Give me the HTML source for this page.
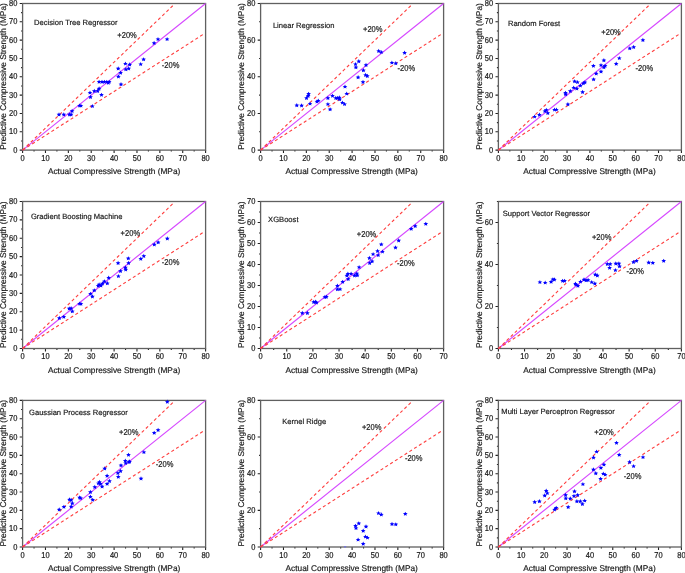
<!DOCTYPE html>
<html><head><meta charset="utf-8"><style>
html,body{margin:0;padding:0;background:#fff;}
svg{display:block;will-change:transform;}
text{font-family:"Liberation Sans",sans-serif;fill:#1a1a1a;text-rendering:geometricPrecision;stroke:#1a1a1a;stroke-width:0.18px;}
</style></head><body>
<svg width="685" height="573" viewBox="0 0 685 573">
<rect width="685" height="573" fill="#fff"/>
<g><path d="M22.6 150.1v2.9M34.04 150.1v1.5M45.48 150.1v2.9M56.91 150.1v1.5M68.35 150.1v2.9M79.79 150.1v1.5M91.22 150.1v2.9M102.66 150.1v1.5M114.1 150.1v2.9M125.54 150.1v1.5M136.97 150.1v2.9M148.41 150.1v1.5M159.85 150.1v2.9M171.29 150.1v1.5M182.72 150.1v2.9M194.16 150.1v1.5M205.6 150.1v2.9M22.6 150.1h-2.9M22.6 140.94h-1.5M22.6 131.78h-2.9M22.6 122.61h-1.5M22.6 113.45h-2.9M22.6 104.29h-1.5M22.6 95.12h-2.9M22.6 85.96h-1.5M22.6 76.8h-2.9M22.6 67.64h-1.5M22.6 58.47h-2.9M22.6 49.31h-1.5M22.6 40.15h-2.9M22.6 30.99h-1.5M22.6 21.82h-2.9M22.6 12.66h-1.5M22.6 3.5h-2.9" stroke="#222" stroke-width="1.1" fill="none"/><rect x="22.6" y="3.5" width="183" height="146.6" fill="none" stroke="#606060" stroke-width="1.3"/><line x1="22.6" y1="150.1" x2="205.6" y2="3.5" stroke="#d648ff" stroke-width="1.15"/><line x1="22.6" y1="150.1" x2="173.19" y2="5.33" stroke="#ff3d3d" stroke-width="1.1" stroke-dasharray="3.1 2.6"/><line x1="22.6" y1="150.1" x2="203.77" y2="33.99" stroke="#ff3d3d" stroke-width="1.1" stroke-dasharray="3.1 2.6"/><g fill="#0000ff"><polygon points="59,112.25 59.69,113.68 61.36,113.84 60.11,114.88 60.46,116.41 59,115.63 57.54,116.41 57.89,114.88 56.64,113.84 58.31,113.68"/><polygon points="63.8,112.25 64.49,113.68 66.16,113.84 64.91,114.88 65.26,116.41 63.8,115.63 62.34,116.41 62.69,114.88 61.44,113.84 63.11,113.68"/><polygon points="69.4,112.25 70.09,113.68 71.76,113.84 70.51,114.88 70.86,116.41 69.4,115.63 67.94,116.41 68.29,114.88 67.04,113.84 68.71,113.68"/><polygon points="71.1,112.25 71.79,113.68 73.46,113.84 72.21,114.88 72.56,116.41 71.1,115.63 69.64,116.41 69.99,114.88 68.74,113.84 70.41,113.68"/><polygon points="72.1,108.75 72.79,110.18 74.46,110.34 73.21,111.38 73.56,112.91 72.1,112.13 70.64,112.91 70.99,111.38 69.74,110.34 71.41,110.18"/><polygon points="79.5,103.45 80.19,104.88 81.86,105.04 80.61,106.08 80.96,107.61 79.5,106.83 78.04,107.61 78.39,106.08 77.14,105.04 78.81,104.88"/><polygon points="80.9,103.45 81.59,104.88 83.26,105.04 82.01,106.08 82.36,107.61 80.9,106.83 79.44,107.61 79.79,106.08 78.54,105.04 80.21,104.88"/><polygon points="90,90.45 90.69,91.88 92.36,92.04 91.11,93.08 91.46,94.61 90,93.83 88.54,94.61 88.89,93.08 87.64,92.04 89.31,91.88"/><polygon points="90.5,94.75 91.19,96.18 92.86,96.34 91.61,97.38 91.96,98.91 90.5,98.13 89.04,98.91 89.39,97.38 88.14,96.34 89.81,96.18"/><polygon points="92.4,103.95 93.09,105.38 94.76,105.54 93.51,106.58 93.86,108.11 92.4,107.33 90.94,108.11 91.29,106.58 90.04,105.54 91.71,105.38"/><polygon points="94.3,88.75 94.99,90.18 96.66,90.34 95.41,91.38 95.76,92.91 94.3,92.13 92.84,92.91 93.19,91.38 91.94,90.34 93.61,90.18"/><polygon points="97.7,88.75 98.39,90.18 100.06,90.34 98.81,91.38 99.16,92.91 97.7,92.13 96.24,92.91 96.59,91.38 95.34,90.34 97.01,90.18"/><polygon points="99.1,86.35 99.79,87.78 101.46,87.94 100.21,88.98 100.56,90.51 99.1,89.73 97.64,90.51 97.99,88.98 96.74,87.94 98.41,87.78"/><polygon points="101.5,92.65 102.19,94.08 103.86,94.24 102.61,95.28 102.96,96.81 101.5,96.03 100.04,96.81 100.39,95.28 99.14,94.24 100.81,94.08"/><polygon points="99.1,79.65 99.79,81.08 101.46,81.24 100.21,82.28 100.56,83.81 99.1,83.03 97.64,83.81 97.99,82.28 96.74,81.24 98.41,81.08"/><polygon points="102,79.65 102.69,81.08 104.36,81.24 103.11,82.28 103.46,83.81 102,83.03 100.54,83.81 100.89,82.28 99.64,81.24 101.31,81.08"/><polygon points="104.4,79.65 105.09,81.08 106.76,81.24 105.51,82.28 105.86,83.81 104.4,83.03 102.94,83.81 103.29,82.28 102.04,81.24 103.71,81.08"/><polygon points="106.8,79.65 107.49,81.08 109.16,81.24 107.91,82.28 108.26,83.81 106.8,83.03 105.34,83.81 105.69,82.28 104.44,81.24 106.11,81.08"/><polygon points="109.2,79.65 109.89,81.08 111.56,81.24 110.31,82.28 110.66,83.81 109.2,83.03 107.74,83.81 108.09,82.28 106.84,81.24 108.51,81.08"/><polygon points="108.3,80.65 108.99,82.08 110.66,82.24 109.41,83.28 109.76,84.81 108.3,84.03 106.84,84.81 107.19,83.28 105.94,82.24 107.61,82.08"/><polygon points="118.2,66.25 118.89,67.68 120.56,67.84 119.31,68.88 119.66,70.41 118.2,69.63 116.74,70.41 117.09,68.88 115.84,67.84 117.51,67.68"/><polygon points="118.4,74.35 119.09,75.78 120.76,75.94 119.51,76.98 119.86,78.51 118.4,77.73 116.94,78.51 117.29,76.98 116.04,75.94 117.71,75.78"/><polygon points="120.6,70.55 121.29,71.98 122.96,72.14 121.71,73.18 122.06,74.71 120.6,73.93 119.14,74.71 119.49,73.18 118.24,72.14 119.91,71.98"/><polygon points="121,82.05 121.69,83.48 123.36,83.64 122.11,84.68 122.46,86.21 121,85.43 119.54,86.21 119.89,84.68 118.64,83.64 120.31,83.48"/><polygon points="125.4,61.45 126.09,62.88 127.76,63.04 126.51,64.08 126.86,65.61 125.4,64.83 123.94,65.61 124.29,64.08 123.04,63.04 124.71,62.88"/><polygon points="125.8,67.15 126.49,68.58 128.16,68.74 126.91,69.78 127.26,71.31 125.8,70.53 124.34,71.31 124.69,69.78 123.44,68.74 125.11,68.58"/><polygon points="128.7,66.25 129.39,67.68 131.06,67.84 129.81,68.88 130.16,70.41 128.7,69.63 127.24,70.41 127.59,68.88 126.34,67.84 128.01,67.68"/><polygon points="129.7,62.35 130.39,63.78 132.06,63.94 130.81,64.98 131.16,66.51 129.7,65.73 128.24,66.51 128.59,64.98 127.34,63.94 129.01,63.78"/><polygon points="140.7,61.95 141.39,63.38 143.06,63.54 141.81,64.58 142.16,66.11 140.7,65.33 139.24,66.11 139.59,64.58 138.34,63.54 140.01,63.38"/><polygon points="143.6,57.15 144.29,58.58 145.96,58.74 144.71,59.78 145.06,61.31 143.6,60.53 142.14,61.31 142.49,59.78 141.24,58.74 142.91,58.58"/><polygon points="154.1,40.85 154.79,42.28 156.46,42.44 155.21,43.48 155.56,45.01 154.1,44.23 152.64,45.01 152.99,43.48 151.74,42.44 153.41,42.28"/><polygon points="158,36.95 158.69,38.38 160.36,38.54 159.11,39.58 159.46,41.11 158,40.33 156.54,41.11 156.89,39.58 155.64,38.54 157.31,38.38"/><polygon points="167.1,36.95 167.79,38.38 169.46,38.54 168.21,39.58 168.56,41.11 167.1,40.33 165.64,41.11 165.99,39.58 164.74,38.54 166.41,38.38"/></g><text transform="translate(22.6 160.85) scale(1 1.15)" font-size="7.5" text-anchor="middle">0</text><text transform="translate(45.48 160.85) scale(1 1.15)" font-size="7.5" text-anchor="middle">10</text><text transform="translate(68.35 160.85) scale(1 1.15)" font-size="7.5" text-anchor="middle">20</text><text transform="translate(91.22 160.85) scale(1 1.15)" font-size="7.5" text-anchor="middle">30</text><text transform="translate(114.1 160.85) scale(1 1.15)" font-size="7.5" text-anchor="middle">40</text><text transform="translate(136.97 160.85) scale(1 1.15)" font-size="7.5" text-anchor="middle">50</text><text transform="translate(159.85 160.85) scale(1 1.15)" font-size="7.5" text-anchor="middle">60</text><text transform="translate(182.72 160.85) scale(1 1.15)" font-size="7.5" text-anchor="middle">70</text><text transform="translate(205.6 160.85) scale(1 1.15)" font-size="7.5" text-anchor="middle">80</text><text transform="translate(17.3 152.6) scale(1 1.15)" font-size="7.5" text-anchor="end">0</text><text transform="translate(17.3 134.28) scale(1 1.15)" font-size="7.5" text-anchor="end">10</text><text transform="translate(17.3 115.95) scale(1 1.15)" font-size="7.5" text-anchor="end">20</text><text transform="translate(17.3 97.62) scale(1 1.15)" font-size="7.5" text-anchor="end">30</text><text transform="translate(17.3 79.3) scale(1 1.15)" font-size="7.5" text-anchor="end">40</text><text transform="translate(17.3 60.97) scale(1 1.15)" font-size="7.5" text-anchor="end">50</text><text transform="translate(17.3 42.65) scale(1 1.15)" font-size="7.5" text-anchor="end">60</text><text transform="translate(17.3 24.32) scale(1 1.15)" font-size="7.5" text-anchor="end">70</text><text transform="translate(17.3 6) scale(1 1.15)" font-size="7.5" text-anchor="end">80</text><text transform="translate(34.05 25.4)" font-size="7.6">Decision Tree Regressor</text><text transform="translate(117.3 37.5) scale(1 1.14)" font-size="7.55">+20%</text><text transform="translate(161.8 67.8) scale(1 1.14)" font-size="7.55">-20%</text><text transform="translate(114.1 174)" font-size="8.3" text-anchor="middle">Actual Compressive Strength (MPa)</text><text transform="translate(6.4 76.45) rotate(-90)" font-size="8.36" text-anchor="middle">Predictive Compressive Strength (MPa)</text></g>
<g><path d="M260.6 150.1v2.9M272.04 150.1v1.5M283.48 150.1v2.9M294.91 150.1v1.5M306.35 150.1v2.9M317.79 150.1v1.5M329.23 150.1v2.9M340.66 150.1v1.5M352.1 150.1v2.9M363.54 150.1v1.5M374.98 150.1v2.9M386.41 150.1v1.5M397.85 150.1v2.9M409.29 150.1v1.5M420.73 150.1v2.9M432.16 150.1v1.5M443.6 150.1v2.9M260.6 150.1h-2.9M260.6 131.78h-1.5M260.6 113.45h-2.9M260.6 95.12h-1.5M260.6 76.8h-2.9M260.6 58.47h-1.5M260.6 40.15h-2.9M260.6 21.82h-1.5M260.6 3.5h-2.9" stroke="#222" stroke-width="1.1" fill="none"/><rect x="260.6" y="3.5" width="183" height="146.6" fill="none" stroke="#606060" stroke-width="1.3"/><line x1="260.6" y1="150.1" x2="443.6" y2="3.5" stroke="#d648ff" stroke-width="1.15"/><line x1="260.6" y1="150.1" x2="411.19" y2="5.33" stroke="#ff3d3d" stroke-width="1.1" stroke-dasharray="3.1 2.6"/><line x1="260.6" y1="150.1" x2="441.77" y2="33.99" stroke="#ff3d3d" stroke-width="1.1" stroke-dasharray="3.1 2.6"/><g fill="#0000ff"><polygon points="296.8,103.05 297.49,104.48 299.16,104.64 297.91,105.68 298.26,107.21 296.8,106.43 295.34,107.21 295.69,105.68 294.44,104.64 296.11,104.48"/><polygon points="301.6,103.25 302.29,104.68 303.96,104.84 302.71,105.88 303.06,107.41 301.6,106.63 300.14,107.41 300.49,105.88 299.24,104.84 300.91,104.68"/><polygon points="306.5,95.85 307.19,97.28 308.86,97.44 307.61,98.48 307.96,100.01 306.5,99.23 305.04,100.01 305.39,98.48 304.14,97.44 305.81,97.28"/><polygon points="308.2,93.65 308.89,95.08 310.56,95.24 309.31,96.28 309.66,97.81 308.2,97.03 306.74,97.81 307.09,96.28 305.84,95.24 307.51,95.08"/><polygon points="308.6,91.65 309.29,93.08 310.96,93.24 309.71,94.28 310.06,95.81 308.6,95.03 307.14,95.81 307.49,94.28 306.24,93.24 307.91,93.08"/><polygon points="310,101.45 310.69,102.88 312.36,103.04 311.11,104.08 311.46,105.61 310,104.83 308.54,105.61 308.89,104.08 307.64,103.04 309.31,102.88"/><polygon points="317,99.35 317.69,100.78 319.36,100.94 318.11,101.98 318.46,103.51 317,102.73 315.54,103.51 315.89,101.98 314.64,100.94 316.31,100.78"/><polygon points="318.3,98.45 318.99,99.88 320.66,100.04 319.41,101.08 319.76,102.61 318.3,101.83 316.84,102.61 317.19,101.08 315.94,100.04 317.61,99.88"/><polygon points="327.9,95.85 328.59,97.28 330.26,97.44 329.01,98.48 329.36,100.01 327.9,99.23 326.44,100.01 326.79,98.48 325.54,97.44 327.21,97.28"/><polygon points="327.9,101.95 328.59,103.38 330.26,103.54 329.01,104.58 329.36,106.11 327.9,105.33 326.44,106.11 326.79,104.58 325.54,103.54 327.21,103.38"/><polygon points="330.1,107.15 330.79,108.58 332.46,108.74 331.21,109.78 331.56,111.31 330.1,110.53 328.64,111.31 328.99,109.78 327.74,108.74 329.41,108.58"/><polygon points="332.5,93.65 333.19,95.08 334.86,95.24 333.61,96.28 333.96,97.81 332.5,97.03 331.04,97.81 331.39,96.28 330.14,95.24 331.81,95.08"/><polygon points="335.8,95.85 336.49,97.28 338.16,97.44 336.91,98.48 337.26,100.01 335.8,99.23 334.34,100.01 334.69,98.48 333.44,97.44 335.11,97.28"/><polygon points="337.5,95.85 338.19,97.28 339.86,97.44 338.61,98.48 338.96,100.01 337.5,99.23 336.04,100.01 336.39,98.48 335.14,97.44 336.81,97.28"/><polygon points="339.3,95.35 339.99,96.78 341.66,96.94 340.41,97.98 340.76,99.51 339.3,98.73 337.84,99.51 338.19,97.98 336.94,96.94 338.61,96.78"/><polygon points="339.7,97.15 340.39,98.58 342.06,98.74 340.81,99.78 341.16,101.31 339.7,100.53 338.24,101.31 338.59,99.78 337.34,98.74 339.01,98.58"/><polygon points="342.4,100.45 343.09,101.88 344.76,102.04 343.51,103.08 343.86,104.61 342.4,103.83 340.94,104.61 341.29,103.08 340.04,102.04 341.71,101.88"/><polygon points="344.6,101.95 345.29,103.38 346.96,103.54 345.71,104.58 346.06,106.11 344.6,105.33 343.14,106.11 343.49,104.58 342.24,103.54 343.91,103.38"/><polygon points="345,84.45 345.69,85.88 347.36,86.04 346.11,87.08 346.46,88.61 345,87.83 343.54,88.61 343.89,87.08 342.64,86.04 344.31,85.88"/><polygon points="346.7,91.45 347.39,92.88 349.06,93.04 347.81,94.08 348.16,95.61 346.7,94.83 345.24,95.61 345.59,94.08 344.34,93.04 346.01,92.88"/><polygon points="355.5,61.95 356.19,63.38 357.86,63.54 356.61,64.58 356.96,66.11 355.5,65.33 354.04,66.11 354.39,64.58 353.14,63.54 354.81,63.38"/><polygon points="355.9,65.05 356.59,66.48 358.26,66.64 357.01,67.68 357.36,69.21 355.9,68.43 354.44,69.21 354.79,67.68 353.54,66.64 355.21,66.48"/><polygon points="358.8,59.05 359.49,60.48 361.16,60.64 359.91,61.68 360.26,63.21 358.8,62.43 357.34,63.21 357.69,61.68 356.44,60.64 358.11,60.48"/><polygon points="358.1,75.05 358.79,76.48 360.46,76.64 359.21,77.68 359.56,79.21 358.1,78.43 356.64,79.21 356.99,77.68 355.74,76.64 357.41,76.48"/><polygon points="363,79.75 363.69,81.18 365.36,81.34 364.11,82.38 364.46,83.91 363,83.13 361.54,83.91 361.89,82.38 360.64,81.34 362.31,81.18"/><polygon points="363.4,68.05 364.09,69.48 365.76,69.64 364.51,70.68 364.86,72.21 363.4,71.43 361.94,72.21 362.29,70.68 361.04,69.64 362.71,69.48"/><polygon points="366,62.85 366.69,64.28 368.36,64.44 367.11,65.48 367.46,67.01 366,66.23 364.54,67.01 364.89,65.48 363.64,64.44 365.31,64.28"/><polygon points="365.6,72.85 366.29,74.28 367.96,74.44 366.71,75.48 367.06,77.01 365.6,76.23 364.14,77.01 364.49,75.48 363.24,74.44 364.91,74.28"/><polygon points="367.3,73.75 367.99,75.18 369.66,75.34 368.41,76.38 368.76,77.91 367.3,77.13 365.84,77.91 366.19,76.38 364.94,75.34 366.61,75.18"/><polygon points="378.7,48.85 379.39,50.28 381.06,50.44 379.81,51.48 380.16,53.01 378.7,52.23 377.24,53.01 377.59,51.48 376.34,50.44 378.01,50.28"/><polygon points="381.3,49.95 381.99,51.38 383.66,51.54 382.41,52.58 382.76,54.11 381.3,53.33 379.84,54.11 380.19,52.58 378.94,51.54 380.61,51.38"/><polygon points="391.9,60.45 392.59,61.88 394.26,62.04 393.01,63.08 393.36,64.61 391.9,63.83 390.44,64.61 390.79,63.08 389.54,62.04 391.21,61.88"/><polygon points="395.8,61.05 396.49,62.48 398.16,62.64 396.91,63.68 397.26,65.21 395.8,64.43 394.34,65.21 394.69,63.68 393.44,62.64 395.11,62.48"/><polygon points="404.6,50.55 405.29,51.98 406.96,52.14 405.71,53.18 406.06,54.71 404.6,53.93 403.14,54.71 403.49,53.18 402.24,52.14 403.91,51.98"/></g><text transform="translate(260.6 160.85) scale(1 1.15)" font-size="7.5" text-anchor="middle">0</text><text transform="translate(283.48 160.85) scale(1 1.15)" font-size="7.5" text-anchor="middle">10</text><text transform="translate(306.35 160.85) scale(1 1.15)" font-size="7.5" text-anchor="middle">20</text><text transform="translate(329.23 160.85) scale(1 1.15)" font-size="7.5" text-anchor="middle">30</text><text transform="translate(352.1 160.85) scale(1 1.15)" font-size="7.5" text-anchor="middle">40</text><text transform="translate(374.98 160.85) scale(1 1.15)" font-size="7.5" text-anchor="middle">50</text><text transform="translate(397.85 160.85) scale(1 1.15)" font-size="7.5" text-anchor="middle">60</text><text transform="translate(420.73 160.85) scale(1 1.15)" font-size="7.5" text-anchor="middle">70</text><text transform="translate(443.6 160.85) scale(1 1.15)" font-size="7.5" text-anchor="middle">80</text><text transform="translate(255.3 152.6) scale(1 1.15)" font-size="7.5" text-anchor="end">0</text><text transform="translate(255.3 115.95) scale(1 1.15)" font-size="7.5" text-anchor="end">20</text><text transform="translate(255.3 79.3) scale(1 1.15)" font-size="7.5" text-anchor="end">40</text><text transform="translate(255.3 42.65) scale(1 1.15)" font-size="7.5" text-anchor="end">60</text><text transform="translate(255.3 6) scale(1 1.15)" font-size="7.5" text-anchor="end">80</text><text transform="translate(272.9 27.8)" font-size="7.6">Linear Regression</text><text transform="translate(363 31.8) scale(1 1.14)" font-size="7.55">+20%</text><text transform="translate(397.5 71.2) scale(1 1.14)" font-size="7.55">-20%</text><text transform="translate(351.7 174)" font-size="8.3" text-anchor="middle">Actual Compressive Strength (MPa)</text><text transform="translate(244.4 76.45) rotate(-90)" font-size="8.36" text-anchor="middle">Predictive Compressive Strength (MPa)</text></g>
<g><path d="M498.4 150.1v2.9M509.84 150.1v1.5M521.27 150.1v2.9M532.71 150.1v1.5M544.15 150.1v2.9M555.59 150.1v1.5M567.02 150.1v2.9M578.46 150.1v1.5M589.9 150.1v2.9M601.34 150.1v1.5M612.77 150.1v2.9M624.21 150.1v1.5M635.65 150.1v2.9M647.09 150.1v1.5M658.52 150.1v2.9M669.96 150.1v1.5M681.4 150.1v2.9M498.4 150.1h-2.9M498.4 140.94h-1.5M498.4 131.78h-2.9M498.4 122.61h-1.5M498.4 113.45h-2.9M498.4 104.29h-1.5M498.4 95.12h-2.9M498.4 85.96h-1.5M498.4 76.8h-2.9M498.4 67.64h-1.5M498.4 58.47h-2.9M498.4 49.31h-1.5M498.4 40.15h-2.9M498.4 30.99h-1.5M498.4 21.82h-2.9M498.4 12.66h-1.5M498.4 3.5h-2.9" stroke="#222" stroke-width="1.1" fill="none"/><rect x="498.4" y="3.5" width="183" height="146.6" fill="none" stroke="#606060" stroke-width="1.3"/><line x1="498.4" y1="150.1" x2="681.4" y2="3.5" stroke="#d648ff" stroke-width="1.15"/><line x1="498.4" y1="150.1" x2="648.99" y2="5.33" stroke="#ff3d3d" stroke-width="1.1" stroke-dasharray="3.1 2.6"/><line x1="498.4" y1="150.1" x2="679.57" y2="33.99" stroke="#ff3d3d" stroke-width="1.1" stroke-dasharray="3.1 2.6"/><g fill="#0000ff"><polygon points="534.6,114.45 535.29,115.88 536.96,116.04 535.71,117.08 536.06,118.61 534.6,117.83 533.14,118.61 533.49,117.08 532.24,116.04 533.91,115.88"/><polygon points="539.4,112.55 540.09,113.98 541.76,114.14 540.51,115.18 540.86,116.71 539.4,115.93 537.94,116.71 538.29,115.18 537.04,114.14 538.71,113.98"/><polygon points="544.9,108.95 545.59,110.38 547.26,110.54 546.01,111.58 546.36,113.11 544.9,112.33 543.44,113.11 543.79,111.58 542.54,110.54 544.21,110.38"/><polygon points="546.3,107.75 546.99,109.18 548.66,109.34 547.41,110.38 547.76,111.91 546.3,111.13 544.84,111.91 545.19,110.38 543.94,109.34 545.61,109.18"/><polygon points="547.8,110.85 548.49,112.28 550.16,112.44 548.91,113.48 549.26,115.01 547.8,114.23 546.34,115.01 546.69,113.48 545.44,112.44 547.11,112.28"/><polygon points="554.5,107.45 555.19,108.88 556.86,109.04 555.61,110.08 555.96,111.61 554.5,110.83 553.04,111.61 553.39,110.08 552.14,109.04 553.81,108.88"/><polygon points="556.4,107.45 557.09,108.88 558.76,109.04 557.51,110.08 557.86,111.61 556.4,110.83 554.94,111.61 555.29,110.08 554.04,109.04 555.71,108.88"/><polygon points="565.5,90.65 566.19,92.08 567.86,92.24 566.61,93.28 566.96,94.81 565.5,94.03 564.04,94.81 564.39,93.28 563.14,92.24 564.81,92.08"/><polygon points="565.7,92.15 566.39,93.58 568.06,93.74 566.81,94.78 567.16,96.31 565.7,95.53 564.24,96.31 564.59,94.78 563.34,93.74 565.01,93.58"/><polygon points="567.9,102.05 568.59,103.48 570.26,103.64 569.01,104.68 569.36,106.21 567.9,105.43 566.44,106.21 566.79,104.68 565.54,103.64 567.21,103.48"/><polygon points="570.3,88.75 570.99,90.18 572.66,90.34 571.41,91.38 571.76,92.91 570.3,92.13 568.84,92.91 569.19,91.38 567.94,90.34 569.61,90.18"/><polygon points="573.7,85.45 574.39,86.88 576.06,87.04 574.81,88.08 575.16,89.61 573.7,88.83 572.24,89.61 572.59,88.08 571.34,87.04 573.01,86.88"/><polygon points="574.6,79.15 575.29,80.58 576.96,80.74 575.71,81.78 576.06,83.31 574.6,82.53 573.14,83.31 573.49,81.78 572.24,80.74 573.91,80.58"/><polygon points="577.5,79.95 578.19,81.38 579.86,81.54 578.61,82.58 578.96,84.11 577.5,83.33 576.04,84.11 576.39,82.58 575.14,81.54 576.81,81.38"/><polygon points="576.8,86.35 577.49,87.78 579.16,87.94 577.91,88.98 578.26,90.51 576.8,89.73 575.34,90.51 575.69,88.98 574.44,87.94 576.11,87.78"/><polygon points="580.4,83.45 581.09,84.88 582.76,85.04 581.51,86.08 581.86,87.61 580.4,86.83 578.94,87.61 579.29,86.08 578.04,85.04 579.71,84.88"/><polygon points="582.6,89.75 583.29,91.18 584.96,91.34 583.71,92.38 584.06,93.91 582.6,93.13 581.14,93.91 581.49,92.38 580.24,91.34 581.91,91.18"/><polygon points="583.3,81.05 583.99,82.48 585.66,82.64 584.41,83.68 584.76,85.21 583.3,84.43 581.84,85.21 582.19,83.68 580.94,82.64 582.61,82.48"/><polygon points="584.9,80.15 585.59,81.58 587.26,81.74 586.01,82.78 586.36,84.31 584.9,83.53 583.44,84.31 583.79,82.78 582.54,81.74 584.21,81.58"/><polygon points="593.6,77.15 594.29,78.58 595.96,78.74 594.71,79.78 595.06,81.31 593.6,80.53 592.14,81.31 592.49,79.78 591.24,78.74 592.91,78.58"/><polygon points="593.4,63.65 594.09,65.08 595.76,65.24 594.51,66.28 594.86,67.81 593.4,67.03 591.94,67.81 592.29,66.28 591.04,65.24 592.71,65.08"/><polygon points="596.2,71.35 596.89,72.78 598.56,72.94 597.31,73.98 597.66,75.51 596.2,74.73 594.74,75.51 595.09,73.98 593.84,72.94 595.51,72.78"/><polygon points="601,69.25 601.69,70.68 603.36,70.84 602.11,71.88 602.46,73.41 601,72.63 599.54,73.41 599.89,71.88 598.64,70.84 600.31,70.68"/><polygon points="601,62.95 601.69,64.38 603.36,64.54 602.11,65.58 602.46,67.11 601,66.33 599.54,67.11 599.89,65.58 598.64,64.54 600.31,64.38"/><polygon points="603.9,58.05 604.59,59.48 606.26,59.64 605.01,60.68 605.36,62.21 603.9,61.43 602.44,62.21 602.79,60.68 601.54,59.64 603.21,59.48"/><polygon points="603.9,65.05 604.59,66.48 606.26,66.64 605.01,67.68 605.36,69.21 603.9,68.43 602.44,69.21 602.79,67.68 601.54,66.64 603.21,66.48"/><polygon points="605.1,63.65 605.79,65.08 607.46,65.24 606.21,66.28 606.56,67.81 605.1,67.03 603.64,67.81 603.99,66.28 602.74,65.24 604.41,65.08"/><polygon points="616.2,61.55 616.89,62.98 618.56,63.14 617.31,64.18 617.66,65.71 616.2,64.93 614.74,65.71 615.09,64.18 613.84,63.14 615.51,62.98"/><polygon points="619.3,55.95 619.99,57.38 621.66,57.54 620.41,58.58 620.76,60.11 619.3,59.33 617.84,60.11 618.19,58.58 616.94,57.54 618.61,57.38"/><polygon points="629.8,46.15 630.49,47.58 632.16,47.74 630.91,48.78 631.26,50.31 629.8,49.53 628.34,50.31 628.69,48.78 627.44,47.74 629.11,47.58"/><polygon points="633.7,44.85 634.39,46.28 636.06,46.44 634.81,47.48 635.16,49.01 633.7,48.23 632.24,49.01 632.59,47.48 631.34,46.44 633.01,46.28"/><polygon points="642.9,37.85 643.59,39.28 645.26,39.44 644.01,40.48 644.36,42.01 642.9,41.23 641.44,42.01 641.79,40.48 640.54,39.44 642.21,39.28"/></g><text transform="translate(498.4 160.85) scale(1 1.15)" font-size="7.5" text-anchor="middle">0</text><text transform="translate(521.27 160.85) scale(1 1.15)" font-size="7.5" text-anchor="middle">10</text><text transform="translate(544.15 160.85) scale(1 1.15)" font-size="7.5" text-anchor="middle">20</text><text transform="translate(567.02 160.85) scale(1 1.15)" font-size="7.5" text-anchor="middle">30</text><text transform="translate(589.9 160.85) scale(1 1.15)" font-size="7.5" text-anchor="middle">40</text><text transform="translate(612.77 160.85) scale(1 1.15)" font-size="7.5" text-anchor="middle">50</text><text transform="translate(635.65 160.85) scale(1 1.15)" font-size="7.5" text-anchor="middle">60</text><text transform="translate(658.52 160.85) scale(1 1.15)" font-size="7.5" text-anchor="middle">70</text><text transform="translate(681.4 160.85) scale(1 1.15)" font-size="7.5" text-anchor="middle">80</text><text transform="translate(493.1 152.6) scale(1 1.15)" font-size="7.5" text-anchor="end">0</text><text transform="translate(493.1 134.28) scale(1 1.15)" font-size="7.5" text-anchor="end">10</text><text transform="translate(493.1 115.95) scale(1 1.15)" font-size="7.5" text-anchor="end">20</text><text transform="translate(493.1 97.62) scale(1 1.15)" font-size="7.5" text-anchor="end">30</text><text transform="translate(493.1 79.3) scale(1 1.15)" font-size="7.5" text-anchor="end">40</text><text transform="translate(493.1 60.97) scale(1 1.15)" font-size="7.5" text-anchor="end">50</text><text transform="translate(493.1 42.65) scale(1 1.15)" font-size="7.5" text-anchor="end">60</text><text transform="translate(493.1 24.32) scale(1 1.15)" font-size="7.5" text-anchor="end">70</text><text transform="translate(493.1 6) scale(1 1.15)" font-size="7.5" text-anchor="end">80</text><text transform="translate(507.9 25.8)" font-size="7.6">Random Forest</text><text transform="translate(601.3 34.8) scale(1 1.14)" font-size="7.55">+20%</text><text transform="translate(635.6 70.6) scale(1 1.14)" font-size="7.55">-20%</text><text transform="translate(589.5 174)" font-size="8.3" text-anchor="middle">Actual Compressive Strength (MPa)</text><text transform="translate(481.6 76.45) rotate(-90)" font-size="8.36" text-anchor="middle">Predictive Compressive Strength (MPa)</text></g>
<g><path d="M22.6 348.5v2.9M34.04 348.5v1.5M45.48 348.5v2.9M56.91 348.5v1.5M68.35 348.5v2.9M79.79 348.5v1.5M91.22 348.5v2.9M102.66 348.5v1.5M114.1 348.5v2.9M125.54 348.5v1.5M136.97 348.5v2.9M148.41 348.5v1.5M159.85 348.5v2.9M171.29 348.5v1.5M182.72 348.5v2.9M194.16 348.5v1.5M205.6 348.5v2.9M22.6 348.5h-2.9M22.6 339.31h-1.5M22.6 330.12h-2.9M22.6 320.94h-1.5M22.6 311.75h-2.9M22.6 302.56h-1.5M22.6 293.38h-2.9M22.6 284.19h-1.5M22.6 275h-2.9M22.6 265.81h-1.5M22.6 256.62h-2.9M22.6 247.44h-1.5M22.6 238.25h-2.9M22.6 229.06h-1.5M22.6 219.88h-2.9M22.6 210.69h-1.5M22.6 201.5h-2.9" stroke="#222" stroke-width="1.1" fill="none"/><rect x="22.6" y="201.5" width="183" height="147" fill="none" stroke="#606060" stroke-width="1.3"/><line x1="22.6" y1="348.5" x2="205.6" y2="201.5" stroke="#d648ff" stroke-width="1.15"/><line x1="22.6" y1="348.5" x2="173.19" y2="203.34" stroke="#ff3d3d" stroke-width="1.1" stroke-dasharray="3.1 2.6"/><line x1="22.6" y1="348.5" x2="203.77" y2="232.08" stroke="#ff3d3d" stroke-width="1.1" stroke-dasharray="3.1 2.6"/><g fill="#0000ff"><polygon points="59.3,315.85 59.99,317.28 61.66,317.44 60.41,318.48 60.76,320.01 59.3,319.23 57.84,320.01 58.19,318.48 56.94,317.44 58.61,317.28"/><polygon points="63.8,314.65 64.49,316.08 66.16,316.24 64.91,317.28 65.26,318.81 63.8,318.03 62.34,318.81 62.69,317.28 61.44,316.24 63.11,316.08"/><polygon points="69.2,306.25 69.89,307.68 71.56,307.84 70.31,308.88 70.66,310.41 69.2,309.63 67.74,310.41 68.09,308.88 66.84,307.84 68.51,307.68"/><polygon points="71.1,306.05 71.79,307.48 73.46,307.64 72.21,308.68 72.56,310.21 71.1,309.43 69.64,310.21 69.99,308.68 68.74,307.64 70.41,307.48"/><polygon points="72.3,309.15 72.99,310.58 74.66,310.74 73.41,311.78 73.76,313.31 72.3,312.53 70.84,313.31 71.19,311.78 69.94,310.74 71.61,310.58"/><polygon points="79.5,301.45 80.19,302.88 81.86,303.04 80.61,304.08 80.96,305.61 79.5,304.83 78.04,305.61 78.39,304.08 77.14,303.04 78.81,302.88"/><polygon points="80.9,301.65 81.59,303.08 83.26,303.24 82.01,304.28 82.36,305.81 80.9,305.03 79.44,305.81 79.79,304.28 78.54,303.24 80.21,303.08"/><polygon points="90.5,291.65 91.19,293.08 92.86,293.24 91.61,294.28 91.96,295.81 90.5,295.03 89.04,295.81 89.39,294.28 88.14,293.24 89.81,293.08"/><polygon points="92.4,294.25 93.09,295.68 94.76,295.84 93.51,296.88 93.86,298.41 92.4,297.63 90.94,298.41 91.29,296.88 90.04,295.84 91.71,295.68"/><polygon points="94.3,288.15 94.99,289.58 96.66,289.74 95.41,290.78 95.76,292.31 94.3,291.53 92.84,292.31 93.19,290.78 91.94,289.74 93.61,289.58"/><polygon points="98.2,283.65 98.89,285.08 100.56,285.24 99.31,286.28 99.66,287.81 98.2,287.03 96.74,287.81 97.09,286.28 95.84,285.24 97.51,285.08"/><polygon points="99.1,282.25 99.79,283.68 101.46,283.84 100.21,284.88 100.56,286.41 99.1,285.63 97.64,286.41 97.99,284.88 96.74,283.84 98.41,283.68"/><polygon points="100.9,283.25 101.59,284.68 103.26,284.84 102.01,285.88 102.36,287.41 100.9,286.63 99.44,287.41 99.79,285.88 98.54,284.84 100.21,284.68"/><polygon points="102.5,281.25 103.19,282.68 104.86,282.84 103.61,283.88 103.96,285.41 102.5,284.63 101.04,285.41 101.39,283.88 100.14,282.84 101.81,282.68"/><polygon points="104.4,279.15 105.09,280.58 106.76,280.74 105.51,281.78 105.86,283.31 104.4,282.53 102.94,283.31 103.29,281.78 102.04,280.74 103.71,280.58"/><polygon points="107.3,281.05 107.99,282.48 109.66,282.64 108.41,283.68 108.76,285.21 107.3,284.43 105.84,285.21 106.19,283.68 104.94,282.64 106.61,282.48"/><polygon points="108.7,275.55 109.39,276.98 111.06,277.14 109.81,278.18 110.16,279.71 108.7,278.93 107.24,279.71 107.59,278.18 106.34,277.14 108.01,276.98"/><polygon points="118.4,273.95 119.09,275.38 120.76,275.54 119.51,276.58 119.86,278.11 118.4,277.33 116.94,278.11 117.29,276.58 116.04,275.54 117.71,275.38"/><polygon points="118.1,260.75 118.79,262.18 120.46,262.34 119.21,263.38 119.56,264.91 118.1,264.13 116.64,264.91 116.99,263.38 115.74,262.34 117.41,262.18"/><polygon points="120.5,268.75 121.19,270.18 122.86,270.34 121.61,271.38 121.96,272.91 120.5,272.13 119.04,272.91 119.39,271.38 118.14,270.34 119.81,270.18"/><polygon points="125.4,265.25 126.09,266.68 127.76,266.84 126.51,267.88 126.86,269.41 125.4,268.63 123.94,269.41 124.29,267.88 123.04,266.84 124.71,266.68"/><polygon points="125.7,267.35 126.39,268.78 128.06,268.94 126.81,269.98 127.16,271.51 125.7,270.73 124.24,271.51 124.59,269.98 123.34,268.94 125.01,268.78"/><polygon points="128.3,256.15 128.99,257.58 130.66,257.74 129.41,258.78 129.76,260.31 128.3,259.53 126.84,260.31 127.19,258.78 125.94,257.74 127.61,257.58"/><polygon points="128.6,260.75 129.29,262.18 130.96,262.34 129.71,263.38 130.06,264.91 128.6,264.13 127.14,264.91 127.49,263.38 126.24,262.34 127.91,262.18"/><polygon points="140.8,256.55 141.49,257.98 143.16,258.14 141.91,259.18 142.26,260.71 140.8,259.93 139.34,260.71 139.69,259.18 138.44,258.14 140.11,257.98"/><polygon points="143.8,253.75 144.49,255.18 146.16,255.34 144.91,256.38 145.26,257.91 143.8,257.13 142.34,257.91 142.69,256.38 141.44,255.34 143.11,255.18"/><polygon points="154.3,242.25 154.99,243.68 156.66,243.84 155.41,244.88 155.76,246.41 154.3,245.63 152.84,246.41 153.19,244.88 151.94,243.84 153.61,243.68"/><polygon points="158.2,240.15 158.89,241.58 160.56,241.74 159.31,242.78 159.66,244.31 158.2,243.53 156.74,244.31 157.09,242.78 155.84,241.74 157.51,241.58"/><polygon points="167.3,236.25 167.99,237.68 169.66,237.84 168.41,238.88 168.76,240.41 167.3,239.63 165.84,240.41 166.19,238.88 164.94,237.84 166.61,237.68"/></g><text transform="translate(22.6 359.25) scale(1 1.15)" font-size="7.5" text-anchor="middle">0</text><text transform="translate(45.48 359.25) scale(1 1.15)" font-size="7.5" text-anchor="middle">10</text><text transform="translate(68.35 359.25) scale(1 1.15)" font-size="7.5" text-anchor="middle">20</text><text transform="translate(91.22 359.25) scale(1 1.15)" font-size="7.5" text-anchor="middle">30</text><text transform="translate(114.1 359.25) scale(1 1.15)" font-size="7.5" text-anchor="middle">40</text><text transform="translate(136.97 359.25) scale(1 1.15)" font-size="7.5" text-anchor="middle">50</text><text transform="translate(159.85 359.25) scale(1 1.15)" font-size="7.5" text-anchor="middle">60</text><text transform="translate(182.72 359.25) scale(1 1.15)" font-size="7.5" text-anchor="middle">70</text><text transform="translate(205.6 359.25) scale(1 1.15)" font-size="7.5" text-anchor="middle">80</text><text transform="translate(17.3 351) scale(1 1.15)" font-size="7.5" text-anchor="end">0</text><text transform="translate(17.3 332.62) scale(1 1.15)" font-size="7.5" text-anchor="end">10</text><text transform="translate(17.3 314.25) scale(1 1.15)" font-size="7.5" text-anchor="end">20</text><text transform="translate(17.3 295.88) scale(1 1.15)" font-size="7.5" text-anchor="end">30</text><text transform="translate(17.3 277.5) scale(1 1.15)" font-size="7.5" text-anchor="end">40</text><text transform="translate(17.3 259.12) scale(1 1.15)" font-size="7.5" text-anchor="end">50</text><text transform="translate(17.3 240.75) scale(1 1.15)" font-size="7.5" text-anchor="end">60</text><text transform="translate(17.3 222.38) scale(1 1.15)" font-size="7.5" text-anchor="end">70</text><text transform="translate(17.3 204) scale(1 1.15)" font-size="7.5" text-anchor="end">80</text><text transform="translate(30.9 219)" font-size="7.6">Gradient Boosting Machine</text><text transform="translate(120.6 235.6) scale(1 1.14)" font-size="7.55">+20%</text><text transform="translate(161.8 264.6) scale(1 1.14)" font-size="7.55">-20%</text><text transform="translate(114.1 373.2)" font-size="8.3" text-anchor="middle">Actual Compressive Strength (MPa)</text><text transform="translate(6.4 274.75) rotate(-90)" font-size="8.36" text-anchor="middle">Predictive Compressive Strength (MPa)</text></g>
<g><path d="M260.6 348.5v2.9M273.67 348.5v1.5M286.74 348.5v2.9M299.81 348.5v1.5M312.89 348.5v2.9M325.96 348.5v1.5M339.03 348.5v2.9M352.1 348.5v1.5M365.17 348.5v2.9M378.24 348.5v1.5M391.31 348.5v2.9M404.39 348.5v1.5M417.46 348.5v2.9M430.53 348.5v1.5M443.6 348.5v2.9M260.6 348.5h-2.9M260.6 338h-1.5M260.6 327.5h-2.9M260.6 317h-1.5M260.6 306.5h-2.9M260.6 296h-1.5M260.6 285.5h-2.9M260.6 275h-1.5M260.6 264.5h-2.9M260.6 254h-1.5M260.6 243.5h-2.9M260.6 233h-1.5M260.6 222.5h-2.9M260.6 212h-1.5M260.6 201.5h-2.9" stroke="#222" stroke-width="1.1" fill="none"/><rect x="260.6" y="201.5" width="183" height="147" fill="none" stroke="#606060" stroke-width="1.3"/><line x1="260.6" y1="348.5" x2="443.6" y2="201.5" stroke="#d648ff" stroke-width="1.15"/><line x1="260.6" y1="348.5" x2="410.92" y2="203.6" stroke="#ff3d3d" stroke-width="1.1" stroke-dasharray="3.1 2.6"/><line x1="260.6" y1="348.5" x2="441.51" y2="232.24" stroke="#ff3d3d" stroke-width="1.1" stroke-dasharray="3.1 2.6"/><g fill="#0000ff"><polygon points="302.3,310.75 302.99,312.18 304.66,312.34 303.41,313.38 303.76,314.91 302.3,314.13 300.84,314.91 301.19,313.38 299.94,312.34 301.61,312.18"/><polygon points="307.4,310.75 308.09,312.18 309.76,312.34 308.51,313.38 308.86,314.91 307.4,314.13 305.94,314.91 306.29,313.38 305.04,312.34 306.71,312.18"/><polygon points="313.7,299.75 314.39,301.18 316.06,301.34 314.81,302.38 315.16,303.91 313.7,303.13 312.24,303.91 312.59,302.38 311.34,301.34 313.01,301.18"/><polygon points="315.4,299.55 316.09,300.98 317.76,301.14 316.51,302.18 316.86,303.71 315.4,302.93 313.94,303.71 314.29,302.18 313.04,301.14 314.71,300.98"/><polygon points="316.5,300.25 317.19,301.68 318.86,301.84 317.61,302.88 317.96,304.41 316.5,303.63 315.04,304.41 315.39,302.88 314.14,301.84 315.81,301.68"/><polygon points="324.9,294.75 325.59,296.18 327.26,296.34 326.01,297.38 326.36,298.91 324.9,298.13 323.44,298.91 323.79,297.38 322.54,296.34 324.21,296.18"/><polygon points="326.4,294.55 327.09,295.98 328.76,296.14 327.51,297.18 327.86,298.71 326.4,297.93 324.94,298.71 325.29,297.18 324.04,296.14 325.71,295.98"/><polygon points="337.4,283.55 338.09,284.98 339.76,285.14 338.51,286.18 338.86,287.71 337.4,286.93 335.94,287.71 336.29,286.18 335.04,285.14 336.71,284.98"/><polygon points="337.4,287.15 338.09,288.58 339.76,288.74 338.51,289.78 338.86,291.31 337.4,290.53 335.94,291.31 336.29,289.78 335.04,288.74 336.71,288.58"/><polygon points="340.1,286.95 340.79,288.38 342.46,288.54 341.21,289.58 341.56,291.11 340.1,290.33 338.64,291.11 338.99,289.58 337.74,288.54 339.41,288.38"/><polygon points="342.7,279.65 343.39,281.08 345.06,281.24 343.81,282.28 344.16,283.81 342.7,283.03 341.24,283.81 341.59,282.28 340.34,281.24 342.01,281.08"/><polygon points="346.9,273.35 347.59,274.78 349.26,274.94 348.01,275.98 348.36,277.51 346.9,276.73 345.44,277.51 345.79,275.98 344.54,274.94 346.21,274.78"/><polygon points="347.9,271.45 348.59,272.88 350.26,273.04 349.01,274.08 349.36,275.61 347.9,274.83 346.44,275.61 346.79,274.08 345.54,273.04 347.21,272.88"/><polygon points="348.2,276.75 348.89,278.18 350.56,278.34 349.31,279.38 349.66,280.91 348.2,280.13 346.74,280.91 347.09,279.38 345.84,278.34 347.51,278.18"/><polygon points="351.1,271.45 351.79,272.88 353.46,273.04 352.21,274.08 352.56,275.61 351.1,274.83 349.64,275.61 349.99,274.08 348.74,273.04 350.41,272.88"/><polygon points="354.5,273.35 355.19,274.78 356.86,274.94 355.61,275.98 355.96,277.51 354.5,276.73 353.04,277.51 353.39,275.98 352.14,274.94 353.81,274.78"/><polygon points="356.8,271.25 357.49,272.68 359.16,272.84 357.91,273.88 358.26,275.41 356.8,274.63 355.34,275.41 355.69,273.88 354.44,272.84 356.11,272.68"/><polygon points="357.3,273.05 357.99,274.48 359.66,274.64 358.41,275.68 358.76,277.21 357.3,276.43 355.84,277.21 356.19,275.68 354.94,274.64 356.61,274.48"/><polygon points="359.1,264.95 359.79,266.38 361.46,266.54 360.21,267.58 360.56,269.11 359.1,268.33 357.64,269.11 357.99,267.58 356.74,266.54 358.41,266.38"/><polygon points="369.4,255.85 370.09,257.28 371.76,257.44 370.51,258.48 370.86,260.01 369.4,259.23 367.94,260.01 368.29,258.48 367.04,257.44 368.71,257.28"/><polygon points="369.7,260.75 370.39,262.18 372.06,262.34 370.81,263.38 371.16,264.91 369.7,264.13 368.24,264.91 368.59,263.38 367.34,262.34 369.01,262.18"/><polygon points="372.1,259.05 372.79,260.48 374.46,260.64 373.21,261.68 373.56,263.21 372.1,262.43 370.64,263.21 370.99,261.68 369.74,260.64 371.41,260.48"/><polygon points="373.1,251.95 373.79,253.38 375.46,253.54 374.21,254.58 374.56,256.11 373.1,255.33 371.64,256.11 371.99,254.58 370.74,253.54 372.41,253.38"/><polygon points="377.6,248.85 378.29,250.28 379.96,250.44 378.71,251.48 379.06,253.01 377.6,252.23 376.14,253.01 376.49,251.48 375.24,250.44 376.91,250.28"/><polygon points="378.2,252.95 378.89,254.38 380.56,254.54 379.31,255.58 379.66,257.11 378.2,256.33 376.74,257.11 377.09,255.58 375.84,254.54 377.51,254.38"/><polygon points="381.3,242.15 381.99,243.58 383.66,243.74 382.41,244.78 382.76,246.31 381.3,245.53 379.84,246.31 380.19,244.78 378.94,243.74 380.61,243.58"/><polygon points="382.5,249.45 383.19,250.88 384.86,251.04 383.61,252.08 383.96,253.61 382.5,252.83 381.04,253.61 381.39,252.08 380.14,251.04 381.81,250.88"/><polygon points="395.5,245.25 396.19,246.68 397.86,246.84 396.61,247.88 396.96,249.41 395.5,248.63 394.04,249.41 394.39,247.88 393.14,246.84 394.81,246.68"/><polygon points="398.7,238.25 399.39,239.68 401.06,239.84 399.81,240.88 400.16,242.41 398.7,241.63 397.24,242.41 397.59,240.88 396.34,239.84 398.01,239.68"/><polygon points="411.2,226.55 411.89,227.98 413.56,228.14 412.31,229.18 412.66,230.71 411.2,229.93 409.74,230.71 410.09,229.18 408.84,228.14 410.51,227.98"/><polygon points="415.2,223.85 415.89,225.28 417.56,225.44 416.31,226.48 416.66,228.01 415.2,227.23 413.74,228.01 414.09,226.48 412.84,225.44 414.51,225.28"/><polygon points="425.8,221.65 426.49,223.08 428.16,223.24 426.91,224.28 427.26,225.81 425.8,225.03 424.34,225.81 424.69,224.28 423.44,223.24 425.11,223.08"/></g><text transform="translate(260.6 359.25) scale(1 1.15)" font-size="7.5" text-anchor="middle">0</text><text transform="translate(286.74 359.25) scale(1 1.15)" font-size="7.5" text-anchor="middle">10</text><text transform="translate(312.89 359.25) scale(1 1.15)" font-size="7.5" text-anchor="middle">20</text><text transform="translate(339.03 359.25) scale(1 1.15)" font-size="7.5" text-anchor="middle">30</text><text transform="translate(365.17 359.25) scale(1 1.15)" font-size="7.5" text-anchor="middle">40</text><text transform="translate(391.31 359.25) scale(1 1.15)" font-size="7.5" text-anchor="middle">50</text><text transform="translate(417.46 359.25) scale(1 1.15)" font-size="7.5" text-anchor="middle">60</text><text transform="translate(443.6 359.25) scale(1 1.15)" font-size="7.5" text-anchor="middle">70</text><text transform="translate(255.3 351) scale(1 1.15)" font-size="7.5" text-anchor="end">0</text><text transform="translate(255.3 330) scale(1 1.15)" font-size="7.5" text-anchor="end">10</text><text transform="translate(255.3 309) scale(1 1.15)" font-size="7.5" text-anchor="end">20</text><text transform="translate(255.3 288) scale(1 1.15)" font-size="7.5" text-anchor="end">30</text><text transform="translate(255.3 267) scale(1 1.15)" font-size="7.5" text-anchor="end">40</text><text transform="translate(255.3 246) scale(1 1.15)" font-size="7.5" text-anchor="end">50</text><text transform="translate(255.3 225) scale(1 1.15)" font-size="7.5" text-anchor="end">60</text><text transform="translate(255.3 204) scale(1 1.15)" font-size="7.5" text-anchor="end">70</text><text transform="translate(268.1 221.6)" font-size="7.6">XGBoost</text><text transform="translate(356.8 236.8) scale(1 1.14)" font-size="7.55">+20%</text><text transform="translate(397 265.6) scale(1 1.14)" font-size="7.55">-20%</text><text transform="translate(351.7 373.2)" font-size="8.3" text-anchor="middle">Actual Compressive Strength (MPa)</text><text transform="translate(244.4 274.75) rotate(-90)" font-size="8.36" text-anchor="middle">Predictive Compressive Strength (MPa)</text></g>
<g><path d="M498.4 348.5v2.9M511.47 348.5v1.5M524.54 348.5v2.9M537.61 348.5v1.5M550.69 348.5v2.9M563.76 348.5v1.5M576.83 348.5v2.9M589.9 348.5v1.5M602.97 348.5v2.9M616.04 348.5v1.5M629.11 348.5v2.9M642.19 348.5v1.5M655.26 348.5v2.9M668.33 348.5v1.5M681.4 348.5v2.9M498.4 348.5h-2.9M498.4 327.5h-1.5M498.4 306.5h-2.9M498.4 285.5h-1.5M498.4 264.5h-2.9M498.4 243.5h-1.5M498.4 222.5h-2.9M498.4 201.5h-1.5" stroke="#222" stroke-width="1.1" fill="none"/><rect x="498.4" y="201.5" width="183" height="147" fill="none" stroke="#606060" stroke-width="1.3"/><line x1="498.4" y1="348.5" x2="681.4" y2="201.5" stroke="#d648ff" stroke-width="1.15"/><line x1="498.4" y1="348.5" x2="648.72" y2="203.6" stroke="#ff3d3d" stroke-width="1.1" stroke-dasharray="3.1 2.6"/><line x1="498.4" y1="348.5" x2="679.31" y2="232.24" stroke="#ff3d3d" stroke-width="1.1" stroke-dasharray="3.1 2.6"/><g fill="#0000ff"><polygon points="539.9,279.95 540.59,281.38 542.26,281.54 541.01,282.58 541.36,284.11 539.9,283.33 538.44,284.11 538.79,282.58 537.54,281.54 539.21,281.38"/><polygon points="545.2,280.45 545.89,281.88 547.56,282.04 546.31,283.08 546.66,284.61 545.2,283.83 543.74,284.61 544.09,283.08 542.84,282.04 544.51,281.88"/><polygon points="551.1,279.65 551.79,281.08 553.46,281.24 552.21,282.28 552.56,283.81 551.1,283.03 549.64,283.81 549.99,282.28 548.74,281.24 550.41,281.08"/><polygon points="552.9,277.15 553.59,278.58 555.26,278.74 554.01,279.78 554.36,281.31 552.9,280.53 551.44,281.31 551.79,279.78 550.54,278.74 552.21,278.58"/><polygon points="554.4,277.35 555.09,278.78 556.76,278.94 555.51,279.98 555.86,281.51 554.4,280.73 552.94,281.51 553.29,279.98 552.04,278.94 553.71,278.78"/><polygon points="562.6,278.65 563.29,280.08 564.96,280.24 563.71,281.28 564.06,282.81 562.6,282.03 561.14,282.81 561.49,281.28 560.24,280.24 561.91,280.08"/><polygon points="564.6,278.65 565.29,280.08 566.96,280.24 565.71,281.28 566.06,282.81 564.6,282.03 563.14,282.81 563.49,281.28 562.24,280.24 563.91,280.08"/><polygon points="575.4,281.45 576.09,282.88 577.76,283.04 576.51,284.08 576.86,285.61 575.4,284.83 573.94,285.61 574.29,284.08 573.04,283.04 574.71,282.88"/><polygon points="575.9,282.45 576.59,283.88 578.26,284.04 577.01,285.08 577.36,286.61 575.9,285.83 574.44,286.61 574.79,285.08 573.54,284.04 575.21,283.88"/><polygon points="577.9,283.55 578.59,284.98 580.26,285.14 579.01,286.18 579.36,287.71 577.9,286.93 576.44,287.71 576.79,286.18 575.54,285.14 577.21,284.98"/><polygon points="580.5,279.45 581.19,280.88 582.86,281.04 581.61,282.08 581.96,283.61 580.5,282.83 579.04,283.61 579.39,282.08 578.14,281.04 579.81,280.88"/><polygon points="584,277.35 584.69,278.78 586.36,278.94 585.11,279.98 585.46,281.51 584,280.73 582.54,281.51 582.89,279.98 581.64,278.94 583.31,278.78"/><polygon points="586.1,278.15 586.79,279.58 588.46,279.74 587.21,280.78 587.56,282.31 586.1,281.53 584.64,282.31 584.99,280.78 583.74,279.74 585.41,279.58"/><polygon points="588.1,277.85 588.79,279.28 590.46,279.44 589.21,280.48 589.56,282.01 588.1,281.23 586.64,282.01 586.99,280.48 585.74,279.44 587.41,279.28"/><polygon points="591.7,279.95 592.39,281.38 594.06,281.54 592.81,282.58 593.16,284.11 591.7,283.33 590.24,284.11 590.59,282.58 589.34,281.54 591.01,281.38"/><polygon points="594.8,281.25 595.49,282.68 597.16,282.84 595.91,283.88 596.26,285.41 594.8,284.63 593.34,285.41 593.69,283.88 592.44,282.84 594.11,282.68"/><polygon points="595.3,272.25 595.99,273.68 597.66,273.84 596.41,274.88 596.76,276.41 595.3,275.63 593.84,276.41 594.19,274.88 592.94,273.84 594.61,273.68"/><polygon points="597.3,273.25 597.99,274.68 599.66,274.84 598.41,275.88 598.76,277.41 597.3,276.63 595.84,277.41 596.19,275.88 594.94,274.84 596.61,274.68"/><polygon points="607.3,261.75 607.99,263.18 609.66,263.34 608.41,264.38 608.76,265.91 607.3,265.13 605.84,265.91 606.19,264.38 604.94,263.34 606.61,263.18"/><polygon points="610.2,261.75 610.89,263.18 612.56,263.34 611.31,264.38 611.66,265.91 610.2,265.13 608.74,265.91 609.09,264.38 607.84,263.34 609.51,263.18"/><polygon points="609.6,265.65 610.29,267.08 611.96,267.24 610.71,268.28 611.06,269.81 609.6,269.03 608.14,269.81 608.49,268.28 607.24,267.24 608.91,267.08"/><polygon points="615.8,261.25 616.49,262.68 618.16,262.84 616.91,263.88 617.26,265.41 615.8,264.63 614.34,265.41 614.69,263.88 613.44,262.84 615.11,262.68"/><polygon points="618.9,261.25 619.59,262.68 621.26,262.84 620.01,263.88 620.36,265.41 618.9,264.63 617.44,265.41 617.79,263.88 616.54,262.84 618.21,262.68"/><polygon points="619.5,264.15 620.19,265.58 621.86,265.74 620.61,266.78 620.96,268.31 619.5,267.53 618.04,268.31 618.39,266.78 617.14,265.74 618.81,265.58"/><polygon points="615.4,267.95 616.09,269.38 617.76,269.54 616.51,270.58 616.86,272.11 615.4,271.33 613.94,272.11 614.29,270.58 613.04,269.54 614.71,269.38"/><polygon points="633.5,259.85 634.19,261.28 635.86,261.44 634.61,262.48 634.96,264.01 633.5,263.23 632.04,264.01 632.39,262.48 631.14,261.44 632.81,261.28"/><polygon points="636.5,258.65 637.19,260.08 638.86,260.24 637.61,261.28 637.96,262.81 636.5,262.03 635.04,262.81 635.39,261.28 634.14,260.24 635.81,260.08"/><polygon points="648.7,260.25 649.39,261.68 651.06,261.84 649.81,262.88 650.16,264.41 648.7,263.63 647.24,264.41 647.59,262.88 646.34,261.84 648.01,261.68"/><polygon points="652.8,260.65 653.49,262.08 655.16,262.24 653.91,263.28 654.26,264.81 652.8,264.03 651.34,264.81 651.69,263.28 650.44,262.24 652.11,262.08"/><polygon points="663.7,258.65 664.39,260.08 666.06,260.24 664.81,261.28 665.16,262.81 663.7,262.03 662.24,262.81 662.59,261.28 661.34,260.24 663.01,260.08"/></g><text transform="translate(498.4 359.25) scale(1 1.15)" font-size="7.5" text-anchor="middle">0</text><text transform="translate(524.54 359.25) scale(1 1.15)" font-size="7.5" text-anchor="middle">10</text><text transform="translate(550.69 359.25) scale(1 1.15)" font-size="7.5" text-anchor="middle">20</text><text transform="translate(576.83 359.25) scale(1 1.15)" font-size="7.5" text-anchor="middle">30</text><text transform="translate(602.97 359.25) scale(1 1.15)" font-size="7.5" text-anchor="middle">40</text><text transform="translate(629.11 359.25) scale(1 1.15)" font-size="7.5" text-anchor="middle">50</text><text transform="translate(655.26 359.25) scale(1 1.15)" font-size="7.5" text-anchor="middle">60</text><text transform="translate(681.4 359.25) scale(1 1.15)" font-size="7.5" text-anchor="middle">70</text><text transform="translate(493.1 351) scale(1 1.15)" font-size="7.5" text-anchor="end">0</text><text transform="translate(493.1 309) scale(1 1.15)" font-size="7.5" text-anchor="end">20</text><text transform="translate(493.1 267) scale(1 1.15)" font-size="7.5" text-anchor="end">40</text><text transform="translate(493.1 225) scale(1 1.15)" font-size="7.5" text-anchor="end">60</text><text transform="translate(502.7 216.1)" font-size="7.6">Support Vector Regressor</text><text transform="translate(591.9 239.8) scale(1 1.14)" font-size="7.55">+20%</text><text transform="translate(626.4 273.9) scale(1 1.14)" font-size="7.55">-20%</text><text transform="translate(589.5 373.2)" font-size="8.3" text-anchor="middle">Actual Compressive Strength (MPa)</text><text transform="translate(481.6 274.75) rotate(-90)" font-size="8.36" text-anchor="middle">Predictive Compressive Strength (MPa)</text></g>
<g><path d="M22.6 547v2.9M34.04 547v1.5M45.48 547v2.9M56.91 547v1.5M68.35 547v2.9M79.79 547v1.5M91.22 547v2.9M102.66 547v1.5M114.1 547v2.9M125.54 547v1.5M136.97 547v2.9M148.41 547v1.5M159.85 547v2.9M171.29 547v1.5M182.72 547v2.9M194.16 547v1.5M205.6 547v2.9M22.6 547h-2.9M22.6 537.84h-1.5M22.6 528.67h-2.9M22.6 519.51h-1.5M22.6 510.35h-2.9M22.6 501.19h-1.5M22.6 492.02h-2.9M22.6 482.86h-1.5M22.6 473.7h-2.9M22.6 464.54h-1.5M22.6 455.38h-2.9M22.6 446.21h-1.5M22.6 437.05h-2.9M22.6 427.89h-1.5M22.6 418.73h-2.9M22.6 409.56h-1.5M22.6 400.4h-2.9" stroke="#222" stroke-width="1.1" fill="none"/><rect x="22.6" y="400.4" width="183" height="146.6" fill="none" stroke="#606060" stroke-width="1.3"/><line x1="22.6" y1="547" x2="205.6" y2="400.4" stroke="#d648ff" stroke-width="1.15"/><line x1="22.6" y1="547" x2="173.19" y2="402.23" stroke="#ff3d3d" stroke-width="1.1" stroke-dasharray="3.1 2.6"/><line x1="22.6" y1="547" x2="203.77" y2="430.89" stroke="#ff3d3d" stroke-width="1.1" stroke-dasharray="3.1 2.6"/><g fill="#0000ff"><polygon points="59.2,507.35 59.89,508.78 61.56,508.94 60.31,509.98 60.66,511.51 59.2,510.73 57.74,511.51 58.09,509.98 56.84,508.94 58.51,508.78"/><polygon points="63.9,504.65 64.59,506.08 66.26,506.24 65.01,507.28 65.36,508.81 63.9,508.03 62.44,508.81 62.79,507.28 61.54,506.24 63.21,506.08"/><polygon points="69.5,497.35 70.19,498.78 71.86,498.94 70.61,499.98 70.96,501.51 69.5,500.73 68.04,501.51 68.39,499.98 67.14,498.94 68.81,498.78"/><polygon points="71.2,497.85 71.89,499.28 73.56,499.44 72.31,500.48 72.66,502.01 71.2,501.23 69.74,502.01 70.09,500.48 68.84,499.44 70.51,499.28"/><polygon points="72.3,501.05 72.99,502.48 74.66,502.64 73.41,503.68 73.76,505.21 72.3,504.43 70.84,505.21 71.19,503.68 69.94,502.64 71.61,502.48"/><polygon points="71.2,504.35 71.89,505.78 73.56,505.94 72.31,506.98 72.66,508.51 71.2,507.73 69.74,508.51 70.09,506.98 68.84,505.94 70.51,505.78"/><polygon points="79.6,495.25 80.29,496.68 81.96,496.84 80.71,497.88 81.06,499.41 79.6,498.63 78.14,499.41 78.49,497.88 77.24,496.84 78.91,496.68"/><polygon points="80.7,495.95 81.39,497.38 83.06,497.54 81.81,498.58 82.16,500.11 80.7,499.33 79.24,500.11 79.59,498.58 78.34,497.54 80.01,497.38"/><polygon points="90.4,489.75 91.09,491.18 92.76,491.34 91.51,492.38 91.86,493.91 90.4,493.13 88.94,493.91 89.29,492.38 88.04,491.34 89.71,491.18"/><polygon points="90.4,494.55 91.09,495.98 92.76,496.14 91.51,497.18 91.86,498.71 90.4,497.93 88.94,498.71 89.29,497.18 88.04,496.14 89.71,495.98"/><polygon points="92.7,497.65 93.39,499.08 95.06,499.24 93.81,500.28 94.16,501.81 92.7,501.03 91.24,501.81 91.59,500.28 90.34,499.24 92.01,499.08"/><polygon points="94.8,484.75 95.49,486.18 97.16,486.34 95.91,487.38 96.26,488.91 94.8,488.13 93.34,488.91 93.69,487.38 92.44,486.34 94.11,486.18"/><polygon points="98.5,481.15 99.19,482.58 100.86,482.74 99.61,483.78 99.96,485.31 98.5,484.53 97.04,485.31 97.39,483.78 96.14,482.74 97.81,482.58"/><polygon points="99.5,479.85 100.19,481.28 101.86,481.44 100.61,482.48 100.96,484.01 99.5,483.23 98.04,484.01 98.39,482.48 97.14,481.44 98.81,481.28"/><polygon points="100.5,481.65 101.19,483.08 102.86,483.24 101.61,484.28 101.96,485.81 100.5,485.03 99.04,485.81 99.39,484.28 98.14,483.24 99.81,483.08"/><polygon points="102.1,484.25 102.79,485.68 104.46,485.84 103.21,486.88 103.56,488.41 102.1,487.63 100.64,488.41 100.99,486.88 99.74,485.84 101.41,485.68"/><polygon points="104.7,466.25 105.39,467.68 107.06,467.84 105.81,468.88 106.16,470.41 104.7,469.63 103.24,470.41 103.59,468.88 102.34,467.84 104.01,467.68"/><polygon points="107.1,473.55 107.79,474.98 109.46,475.14 108.21,476.18 108.56,477.71 107.1,476.93 105.64,477.71 105.99,476.18 104.74,475.14 106.41,474.98"/><polygon points="109.5,478.85 110.19,480.28 111.86,480.44 110.61,481.48 110.96,483.01 109.5,482.23 108.04,483.01 108.39,481.48 107.14,480.44 108.81,480.28"/><polygon points="107.1,481.65 107.79,483.08 109.46,483.24 108.21,484.28 108.56,485.81 107.1,485.03 105.64,485.81 105.99,484.28 104.74,483.24 106.41,483.08"/><polygon points="167.3,399.55 167.99,400.98 169.66,401.14 168.41,402.18 168.76,403.71 167.3,402.93 165.84,403.71 166.19,402.18 164.94,401.14 166.61,400.98"/><polygon points="154.2,430.65 154.89,432.08 156.56,432.24 155.31,433.28 155.66,434.81 154.2,434.03 152.74,434.81 153.09,433.28 151.84,432.24 153.51,432.08"/><polygon points="158.1,427.75 158.79,429.18 160.46,429.34 159.21,430.38 159.56,431.91 158.1,431.13 156.64,431.91 156.99,430.38 155.74,429.34 157.41,429.18"/><polygon points="143.9,449.95 144.59,451.38 146.26,451.54 145.01,452.58 145.36,454.11 143.9,453.33 142.44,454.11 142.79,452.58 141.54,451.54 143.21,451.38"/><polygon points="128.5,452.65 129.19,454.08 130.86,454.24 129.61,455.28 129.96,456.81 128.5,456.03 127.04,456.81 127.39,455.28 126.14,454.24 127.81,454.08"/><polygon points="125.3,458.55 125.99,459.98 127.66,460.14 126.41,461.18 126.76,462.71 125.3,461.93 123.84,462.71 124.19,461.18 122.94,460.14 124.61,459.98"/><polygon points="125.7,460.95 126.39,462.38 128.06,462.54 126.81,463.58 127.16,465.11 125.7,464.33 124.24,465.11 124.59,463.58 123.34,462.54 125.01,462.38"/><polygon points="128.9,459.75 129.59,461.18 131.26,461.34 130.01,462.38 130.36,463.91 128.9,463.13 127.44,463.91 127.79,462.38 126.54,461.34 128.21,461.18"/><polygon points="129.6,459.35 130.29,460.78 131.96,460.94 130.71,461.98 131.06,463.51 129.6,462.73 128.14,463.51 128.49,461.98 127.24,460.94 128.91,460.78"/><polygon points="121,463.15 121.69,464.58 123.36,464.74 122.11,465.78 122.46,467.31 121,466.53 119.54,467.31 119.89,465.78 118.64,464.74 120.31,464.58"/><polygon points="120.6,468.75 121.29,470.18 122.96,470.34 121.71,471.38 122.06,472.91 120.6,472.13 119.14,472.91 119.49,471.38 118.24,470.34 119.91,470.18"/><polygon points="117.9,470.75 118.59,472.18 120.26,472.34 119.01,473.38 119.36,474.91 117.9,474.13 116.44,474.91 116.79,473.38 115.54,472.34 117.21,472.18"/><polygon points="118.3,474.65 118.99,476.08 120.66,476.24 119.41,477.28 119.76,478.81 118.3,478.03 116.84,478.81 117.19,477.28 115.94,476.24 117.61,476.08"/><polygon points="141,476.25 141.69,477.68 143.36,477.84 142.11,478.88 142.46,480.41 141,479.63 139.54,480.41 139.89,478.88 138.64,477.84 140.31,477.68"/></g><text transform="translate(22.6 557.75) scale(1 1.15)" font-size="7.5" text-anchor="middle">0</text><text transform="translate(45.48 557.75) scale(1 1.15)" font-size="7.5" text-anchor="middle">10</text><text transform="translate(68.35 557.75) scale(1 1.15)" font-size="7.5" text-anchor="middle">20</text><text transform="translate(91.22 557.75) scale(1 1.15)" font-size="7.5" text-anchor="middle">30</text><text transform="translate(114.1 557.75) scale(1 1.15)" font-size="7.5" text-anchor="middle">40</text><text transform="translate(136.97 557.75) scale(1 1.15)" font-size="7.5" text-anchor="middle">50</text><text transform="translate(159.85 557.75) scale(1 1.15)" font-size="7.5" text-anchor="middle">60</text><text transform="translate(182.72 557.75) scale(1 1.15)" font-size="7.5" text-anchor="middle">70</text><text transform="translate(205.6 557.75) scale(1 1.15)" font-size="7.5" text-anchor="middle">80</text><text transform="translate(17.3 549.5) scale(1 1.15)" font-size="7.5" text-anchor="end">0</text><text transform="translate(17.3 531.17) scale(1 1.15)" font-size="7.5" text-anchor="end">10</text><text transform="translate(17.3 512.85) scale(1 1.15)" font-size="7.5" text-anchor="end">20</text><text transform="translate(17.3 494.52) scale(1 1.15)" font-size="7.5" text-anchor="end">30</text><text transform="translate(17.3 476.2) scale(1 1.15)" font-size="7.5" text-anchor="end">40</text><text transform="translate(17.3 457.88) scale(1 1.15)" font-size="7.5" text-anchor="end">50</text><text transform="translate(17.3 439.55) scale(1 1.15)" font-size="7.5" text-anchor="end">60</text><text transform="translate(17.3 421.23) scale(1 1.15)" font-size="7.5" text-anchor="end">70</text><text transform="translate(17.3 402.9) scale(1 1.15)" font-size="7.5" text-anchor="end">80</text><text transform="translate(29 415.3)" font-size="7.6">Gaussian Process Regressor</text><text transform="translate(119 435) scale(1 1.14)" font-size="7.55">+20%</text><text transform="translate(155.8 467.2) scale(1 1.14)" font-size="7.55">-20%</text><text transform="translate(114.1 571.2)" font-size="8.3" text-anchor="middle">Actual Compressive Strength (MPa)</text><text transform="translate(6.4 473.2) rotate(-90)" font-size="8.36" text-anchor="middle">Predictive Compressive Strength (MPa)</text></g>
<g><path d="M260.6 547v2.9M272.04 547v1.5M283.48 547v2.9M294.91 547v1.5M306.35 547v2.9M317.79 547v1.5M329.23 547v2.9M340.66 547v1.5M352.1 547v2.9M363.54 547v1.5M374.98 547v2.9M386.41 547v1.5M397.85 547v2.9M409.29 547v1.5M420.73 547v2.9M432.16 547v1.5M443.6 547v2.9M260.6 547h-2.9M260.6 528.67h-1.5M260.6 510.35h-2.9M260.6 492.02h-1.5M260.6 473.7h-2.9M260.6 455.38h-1.5M260.6 437.05h-2.9M260.6 418.73h-1.5M260.6 400.4h-2.9" stroke="#222" stroke-width="1.1" fill="none"/><rect x="260.6" y="400.4" width="183" height="146.6" fill="none" stroke="#606060" stroke-width="1.3"/><line x1="260.6" y1="547" x2="443.6" y2="400.4" stroke="#d648ff" stroke-width="1.15"/><line x1="260.6" y1="547" x2="411.19" y2="402.23" stroke="#ff3d3d" stroke-width="1.1" stroke-dasharray="3.1 2.6"/><line x1="260.6" y1="547" x2="441.77" y2="430.89" stroke="#ff3d3d" stroke-width="1.1" stroke-dasharray="3.1 2.6"/><g fill="#0000ff"><polygon points="355.5,523.65 356.19,525.08 357.86,525.24 356.61,526.28 356.96,527.81 355.5,527.03 354.04,527.81 354.39,526.28 353.14,525.24 354.81,525.08"/><polygon points="356,525.95 356.69,527.38 358.36,527.54 357.11,528.58 357.46,530.11 356,529.33 354.54,530.11 354.89,528.58 353.64,527.54 355.31,527.38"/><polygon points="358.8,521.15 359.49,522.58 361.16,522.74 359.91,523.78 360.26,525.31 358.8,524.53 357.34,525.31 357.69,523.78 356.44,522.74 358.11,522.58"/><polygon points="358.1,537.45 358.79,538.88 360.46,539.04 359.21,540.08 359.56,541.61 358.1,540.83 356.64,541.61 356.99,540.08 355.74,539.04 357.41,538.88"/><polygon points="363.2,528.55 363.89,529.98 365.56,530.14 364.31,531.18 364.66,532.71 363.2,531.93 361.74,532.71 362.09,531.18 360.84,530.14 362.51,529.98"/><polygon points="363.2,541.55 363.89,542.98 365.56,543.14 364.31,544.18 364.66,545.71 363.2,544.93 361.74,545.71 362.09,544.18 360.84,543.14 362.51,542.98"/><polygon points="366,524.25 366.69,525.68 368.36,525.84 367.11,526.88 367.46,528.41 366,527.63 364.54,528.41 364.89,526.88 363.64,525.84 365.31,525.68"/><polygon points="365.4,534.45 366.09,535.88 367.76,536.04 366.51,537.08 366.86,538.61 365.4,537.83 363.94,538.61 364.29,537.08 363.04,536.04 364.71,535.88"/><polygon points="367.5,535.45 368.19,536.88 369.86,537.04 368.61,538.08 368.96,539.61 367.5,538.83 366.04,539.61 366.39,538.08 365.14,537.04 366.81,536.88"/><polygon points="378.5,510.95 379.19,512.38 380.86,512.54 379.61,513.58 379.96,515.11 378.5,514.33 377.04,515.11 377.39,513.58 376.14,512.54 377.81,512.38"/><polygon points="381.3,512.35 381.99,513.78 383.66,513.94 382.41,514.98 382.76,516.51 381.3,515.73 379.84,516.51 380.19,514.98 378.94,513.94 380.61,513.78"/><polygon points="392,521.85 392.69,523.28 394.36,523.44 393.11,524.48 393.46,526.01 392,525.23 390.54,526.01 390.89,524.48 389.64,523.44 391.31,523.28"/><polygon points="395.8,522.15 396.49,523.58 398.16,523.74 396.91,524.78 397.26,526.31 395.8,525.53 394.34,526.31 394.69,524.78 393.44,523.74 395.11,523.58"/><polygon points="405.3,511.65 405.99,513.08 407.66,513.24 406.41,514.28 406.76,515.81 405.3,515.03 403.84,515.81 404.19,514.28 402.94,513.24 404.61,513.08"/></g><text transform="translate(260.6 557.75) scale(1 1.15)" font-size="7.5" text-anchor="middle">0</text><text transform="translate(283.48 557.75) scale(1 1.15)" font-size="7.5" text-anchor="middle">10</text><text transform="translate(306.35 557.75) scale(1 1.15)" font-size="7.5" text-anchor="middle">20</text><text transform="translate(329.23 557.75) scale(1 1.15)" font-size="7.5" text-anchor="middle">30</text><text transform="translate(352.1 557.75) scale(1 1.15)" font-size="7.5" text-anchor="middle">40</text><text transform="translate(374.98 557.75) scale(1 1.15)" font-size="7.5" text-anchor="middle">50</text><text transform="translate(397.85 557.75) scale(1 1.15)" font-size="7.5" text-anchor="middle">60</text><text transform="translate(420.73 557.75) scale(1 1.15)" font-size="7.5" text-anchor="middle">70</text><text transform="translate(443.6 557.75) scale(1 1.15)" font-size="7.5" text-anchor="middle">80</text><text transform="translate(255.3 549.5) scale(1 1.15)" font-size="7.5" text-anchor="end">0</text><text transform="translate(255.3 512.85) scale(1 1.15)" font-size="7.5" text-anchor="end">20</text><text transform="translate(255.3 476.2) scale(1 1.15)" font-size="7.5" text-anchor="end">40</text><text transform="translate(255.3 439.55) scale(1 1.15)" font-size="7.5" text-anchor="end">60</text><text transform="translate(255.3 402.9) scale(1 1.15)" font-size="7.5" text-anchor="end">80</text><text transform="translate(282.3 423.7)" font-size="7.6">Kernel Ridge</text><text transform="translate(361.9 429.6) scale(1 1.14)" font-size="7.55">+20%</text><text transform="translate(404.9 460.6) scale(1 1.14)" font-size="7.55">-20%</text><text transform="translate(351.7 571.2)" font-size="8.3" text-anchor="middle">Actual Compressive Strength (MPa)</text><text transform="translate(244.4 473.2) rotate(-90)" font-size="8.36" text-anchor="middle">Predictive Compressive Strength (MPa)</text><rect x="344" y="546.2" width="2.2" height="1.2" fill="#7070e0"/></g>
<g><path d="M498.4 547v2.9M509.84 547v1.5M521.27 547v2.9M532.71 547v1.5M544.15 547v2.9M555.59 547v1.5M567.02 547v2.9M578.46 547v1.5M589.9 547v2.9M601.34 547v1.5M612.77 547v2.9M624.21 547v1.5M635.65 547v2.9M647.09 547v1.5M658.52 547v2.9M669.96 547v1.5M681.4 547v2.9M498.4 547h-2.9M498.4 537.84h-1.5M498.4 528.67h-2.9M498.4 519.51h-1.5M498.4 510.35h-2.9M498.4 501.19h-1.5M498.4 492.02h-2.9M498.4 482.86h-1.5M498.4 473.7h-2.9M498.4 464.54h-1.5M498.4 455.38h-2.9M498.4 446.21h-1.5M498.4 437.05h-2.9M498.4 427.89h-1.5M498.4 418.73h-2.9M498.4 409.56h-1.5M498.4 400.4h-2.9" stroke="#222" stroke-width="1.1" fill="none"/><rect x="498.4" y="400.4" width="183" height="146.6" fill="none" stroke="#606060" stroke-width="1.3"/><line x1="498.4" y1="547" x2="681.4" y2="400.4" stroke="#d648ff" stroke-width="1.15"/><line x1="498.4" y1="547" x2="648.99" y2="402.23" stroke="#ff3d3d" stroke-width="1.1" stroke-dasharray="3.1 2.6"/><line x1="498.4" y1="547" x2="679.57" y2="430.89" stroke="#ff3d3d" stroke-width="1.1" stroke-dasharray="3.1 2.6"/><g fill="#0000ff"><polygon points="534.7,499.75 535.39,501.18 537.06,501.34 535.81,502.38 536.16,503.91 534.7,503.13 533.24,503.91 533.59,502.38 532.34,501.34 534.01,501.18"/><polygon points="539.4,499.05 540.09,500.48 541.76,500.64 540.51,501.68 540.86,503.21 539.4,502.43 537.94,503.21 538.29,501.68 537.04,500.64 538.71,500.48"/><polygon points="544.7,493.25 545.39,494.68 547.06,494.84 545.81,495.88 546.16,497.41 544.7,496.63 543.24,497.41 543.59,495.88 542.34,494.84 544.01,494.68"/><polygon points="546.2,488.55 546.89,489.98 548.56,490.14 547.31,491.18 547.66,492.71 546.2,491.93 544.74,492.71 545.09,491.18 543.84,490.14 545.51,489.98"/><polygon points="547.3,490.95 547.99,492.38 549.66,492.54 548.41,493.58 548.76,495.11 547.3,494.33 545.84,495.11 546.19,493.58 544.94,492.54 546.61,492.38"/><polygon points="554.6,507.35 555.29,508.78 556.96,508.94 555.71,509.98 556.06,511.51 554.6,510.73 553.14,511.51 553.49,509.98 552.24,508.94 553.91,508.78"/><polygon points="556.2,505.65 556.89,507.08 558.56,507.24 557.31,508.28 557.66,509.81 556.2,509.03 554.74,509.81 555.09,508.28 553.84,507.24 555.51,507.08"/><polygon points="565.6,492.75 566.29,494.18 567.96,494.34 566.71,495.38 567.06,496.91 565.6,496.13 564.14,496.91 564.49,495.38 563.24,494.34 564.91,494.18"/><polygon points="565.8,496.15 566.49,497.58 568.16,497.74 566.91,498.78 567.26,500.31 565.8,499.53 564.34,500.31 564.69,498.78 563.44,497.74 565.11,497.58"/><polygon points="568.2,504.75 568.89,506.18 570.56,506.34 569.31,507.38 569.66,508.91 568.2,508.13 566.74,508.91 567.09,507.38 565.84,506.34 567.51,506.18"/><polygon points="570.3,496.35 570.99,497.78 572.66,497.94 571.41,498.98 571.76,500.51 570.3,499.73 568.84,500.51 569.19,498.98 567.94,497.94 569.61,497.78"/><polygon points="574.5,489.05 575.19,490.48 576.86,490.64 575.61,491.68 575.96,493.21 574.5,492.43 573.04,493.21 573.39,491.68 572.14,490.64 573.81,490.48"/><polygon points="574,493.75 574.69,495.18 576.36,495.34 575.11,496.38 575.46,497.91 574,497.13 572.54,497.91 572.89,496.38 571.64,495.34 573.31,495.18"/><polygon points="577.7,492.75 578.39,494.18 580.06,494.34 578.81,495.38 579.16,496.91 577.7,496.13 576.24,496.91 576.59,495.38 575.34,494.34 577.01,494.18"/><polygon points="576.9,499.05 577.59,500.48 579.26,500.64 578.01,501.68 578.36,503.21 576.9,502.43 575.44,503.21 575.79,501.68 574.54,500.64 576.21,500.48"/><polygon points="580.3,499.05 580.99,500.48 582.66,500.64 581.41,501.68 581.76,503.21 580.3,502.43 578.84,503.21 579.19,501.68 577.94,500.64 579.61,500.48"/><polygon points="582.4,501.85 583.09,503.28 584.76,503.44 583.51,504.48 583.86,506.01 582.4,505.23 580.94,506.01 581.29,504.48 580.04,503.44 581.71,503.28"/><polygon points="584.7,498.45 585.39,499.88 587.06,500.04 585.81,501.08 586.16,502.61 584.7,501.83 583.24,502.61 583.59,501.08 582.34,500.04 584.01,499.88"/><polygon points="582.9,481.95 583.59,483.38 585.26,483.54 584.01,484.58 584.36,486.11 582.9,485.33 581.44,486.11 581.79,484.58 580.54,483.54 582.21,483.38"/><polygon points="593.4,467.25 594.09,468.68 595.76,468.84 594.51,469.88 594.86,471.41 593.4,470.63 591.94,471.41 592.29,469.88 591.04,468.84 592.71,468.68"/><polygon points="595.8,471.05 596.49,472.48 598.16,472.64 596.91,473.68 597.26,475.21 595.8,474.43 594.34,475.21 594.69,473.68 593.44,472.64 595.11,472.48"/><polygon points="596.6,449.45 597.29,450.88 598.96,451.04 597.71,452.08 598.06,453.61 596.6,452.83 595.14,453.61 595.49,452.08 594.24,451.04 595.91,450.88"/><polygon points="593.5,455.35 594.19,456.78 595.86,456.94 594.61,457.98 594.96,459.51 593.5,458.73 592.04,459.51 592.39,457.98 591.14,456.94 592.81,456.78"/><polygon points="616.5,440.65 617.19,442.08 618.86,442.24 617.61,443.28 617.96,444.81 616.5,444.03 615.04,444.81 615.39,443.28 614.14,442.24 615.81,442.08"/><polygon points="619.2,452.55 619.89,453.98 621.56,454.14 620.31,455.18 620.66,456.71 619.2,455.93 617.74,456.71 618.09,455.18 616.84,454.14 618.51,453.98"/><polygon points="603.9,462.35 604.59,463.78 606.26,463.94 605.01,464.98 605.36,466.51 603.9,465.73 602.44,466.51 602.79,464.98 601.54,463.94 603.21,463.78"/><polygon points="600.9,465.65 601.59,467.08 603.26,467.24 602.01,468.28 602.36,469.81 600.9,469.03 599.44,469.81 599.79,468.28 598.54,467.24 600.21,467.08"/><polygon points="603.3,471.45 603.99,472.88 605.66,473.04 604.41,474.08 604.76,475.61 603.3,474.83 601.84,475.61 602.19,474.08 600.94,473.04 602.61,472.88"/><polygon points="605.2,472.45 605.89,473.88 607.56,474.04 606.31,475.08 606.66,476.61 605.2,475.83 603.74,476.61 604.09,475.08 602.84,474.04 604.51,473.88"/><polygon points="600.6,476.65 601.29,478.08 602.96,478.24 601.71,479.28 602.06,480.81 600.6,480.03 599.14,480.81 599.49,479.28 598.24,478.24 599.91,478.08"/><polygon points="629.6,459.85 630.29,461.28 631.96,461.44 630.71,462.48 631.06,464.01 629.6,463.23 628.14,464.01 628.49,462.48 627.24,461.44 628.91,461.28"/><polygon points="633.6,463.95 634.29,465.38 635.96,465.54 634.71,466.58 635.06,468.11 633.6,467.33 632.14,468.11 632.49,466.58 631.24,465.54 632.91,465.38"/><polygon points="643,454.95 643.69,456.38 645.36,456.54 644.11,457.58 644.46,459.11 643,458.33 641.54,459.11 641.89,457.58 640.64,456.54 642.31,456.38"/></g><text transform="translate(498.4 557.75) scale(1 1.15)" font-size="7.5" text-anchor="middle">0</text><text transform="translate(521.27 557.75) scale(1 1.15)" font-size="7.5" text-anchor="middle">10</text><text transform="translate(544.15 557.75) scale(1 1.15)" font-size="7.5" text-anchor="middle">20</text><text transform="translate(567.02 557.75) scale(1 1.15)" font-size="7.5" text-anchor="middle">30</text><text transform="translate(589.9 557.75) scale(1 1.15)" font-size="7.5" text-anchor="middle">40</text><text transform="translate(612.77 557.75) scale(1 1.15)" font-size="7.5" text-anchor="middle">50</text><text transform="translate(635.65 557.75) scale(1 1.15)" font-size="7.5" text-anchor="middle">60</text><text transform="translate(658.52 557.75) scale(1 1.15)" font-size="7.5" text-anchor="middle">70</text><text transform="translate(681.4 557.75) scale(1 1.15)" font-size="7.5" text-anchor="middle">80</text><text transform="translate(493.1 549.5) scale(1 1.15)" font-size="7.5" text-anchor="end">0</text><text transform="translate(493.1 531.17) scale(1 1.15)" font-size="7.5" text-anchor="end">10</text><text transform="translate(493.1 512.85) scale(1 1.15)" font-size="7.5" text-anchor="end">20</text><text transform="translate(493.1 494.52) scale(1 1.15)" font-size="7.5" text-anchor="end">30</text><text transform="translate(493.1 476.2) scale(1 1.15)" font-size="7.5" text-anchor="end">40</text><text transform="translate(493.1 457.88) scale(1 1.15)" font-size="7.5" text-anchor="end">50</text><text transform="translate(493.1 439.55) scale(1 1.15)" font-size="7.5" text-anchor="end">60</text><text transform="translate(493.1 421.23) scale(1 1.15)" font-size="7.5" text-anchor="end">70</text><text transform="translate(493.1 402.9) scale(1 1.15)" font-size="7.5" text-anchor="end">80</text><text transform="translate(501.3 413.9)" font-size="7.6">Multi Layer Perceptron Regressor</text><text transform="translate(594.3 434.9) scale(1 1.14)" font-size="7.55">+20%</text><text transform="translate(623.8 478.5) scale(1 1.14)" font-size="7.55">-20%</text><text transform="translate(589.5 571.2)" font-size="8.3" text-anchor="middle">Actual Compressive Strength (MPa)</text><text transform="translate(481.6 473.2) rotate(-90)" font-size="8.36" text-anchor="middle">Predictive Compressive Strength (MPa)</text></g>
</svg>
</body></html>
